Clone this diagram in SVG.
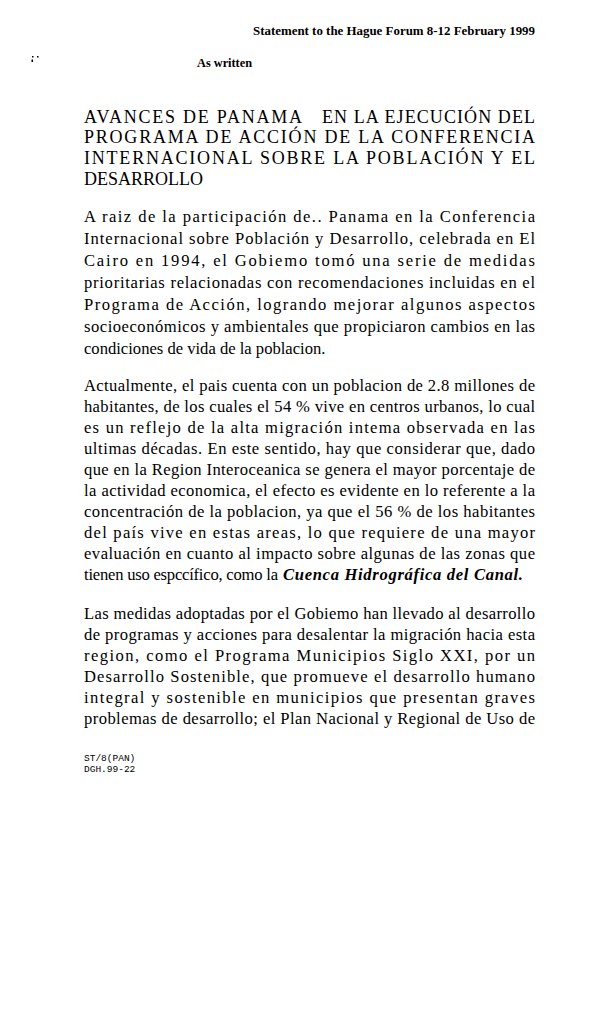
<svg xmlns="http://www.w3.org/2000/svg" width="616" height="1010" viewBox="0 0 616 1010">
<style>
.hd{font-family:"Liberation Serif","Times New Roman",serif;font-weight:bold;font-size:12px;fill:#000}
.ti{font-family:"Liberation Serif","Times New Roman",serif;font-size:18px;fill:#000}
.b{font-family:"Liberation Serif","Times New Roman",serif;font-size:16.6px;fill:#000}
.bi{font-family:"Liberation Serif","Times New Roman",serif;font-size:16.6px;font-weight:bold;font-style:italic;fill:#000}
.ft{font-family:"Liberation Mono","Courier New",monospace;font-size:9.5px;fill:#000}
</style>
<rect width="616" height="1010" fill="#fff"/>
<g id="header">
<text class="hd" x="253" y="35" textLength="282" lengthAdjust="spacingAndGlyphs">Statement to the Hague Forum 8-12 February 1999</text>
<text class="hd" x="197" y="67" textLength="55" lengthAdjust="spacingAndGlyphs">As written</text>
<g fill="#000"><rect x="32" y="56" width="1.5" height="1.5"/><rect x="37" y="56" width="1.5" height="1.5"/><rect x="31.5" y="59.5" width="1.5" height="2.5"/></g>
</g>
<g id="title">
<text class="ti" x="84" y="123" textLength="218" lengthAdjust="spacing">AVANCES DE PANAMA</text>
<text class="ti" x="322" y="123" textLength="213" lengthAdjust="spacing">EN LA EJECUCIÓN DEL</text>
<text class="ti" x="84" y="143" textLength="451" lengthAdjust="spacing">PROGRAMA DE ACCIÓN DE LA CONFERENCIA</text>
<text class="ti" x="84" y="164" textLength="451" lengthAdjust="spacing">INTERNACIONAL SOBRE LA POBLACIÓN Y EL</text>
<text class="ti" x="84" y="185">DESARROLLO</text>
</g>
<g id="para1">
<text class="b" x="84" y="222" textLength="451" lengthAdjust="spacing">A raiz de la participación de.. Panama en la Conferencia</text>
<text class="b" x="84" y="244" textLength="451" lengthAdjust="spacing">Internacional sobre Población y Desarrollo, celebrada en El</text>
<text class="b" x="84" y="266" textLength="451" lengthAdjust="spacing">Cairo en 1994, el Gobiemo tomó una serie de medidas</text>
<text class="b" x="84" y="288" textLength="451" lengthAdjust="spacing">prioritarias relacionadas con recomendaciones incluidas en el</text>
<text class="b" x="84" y="310" textLength="451" lengthAdjust="spacing">Programa de Acción, logrando mejorar algunos aspectos</text>
<text class="b" x="84" y="332" textLength="451" lengthAdjust="spacing">socioeconómicos y ambientales que propiciaron cambios en las</text>
<text class="b" x="84" y="354">condiciones de vida de la poblacion.</text>
</g>
<g id="para2">
<text class="b" x="84" y="391" textLength="451" lengthAdjust="spacing">Actualmente, el pais cuenta con un poblacion de 2.8 millones de</text>
<text class="b" x="84" y="412" textLength="451" lengthAdjust="spacing">habitantes, de los cuales el 54 % vive en centros urbanos, lo cual</text>
<text class="b" x="84" y="433" textLength="451" lengthAdjust="spacing">es un reflejo de la alta  migración intema observada en las</text>
<text class="b" x="84" y="454" textLength="451" lengthAdjust="spacing">ultimas décadas. En este sentido, hay que considerar que, dado</text>
<text class="b" x="84" y="475" textLength="451" lengthAdjust="spacing">que en la Region Interoceanica se genera el mayor porcentaje de</text>
<text class="b" x="84" y="496" textLength="451" lengthAdjust="spacing">la actividad economica, el efecto es evidente en lo referente a la</text>
<text class="b" x="84" y="517" textLength="451" lengthAdjust="spacing">concentración de la poblacion, ya que el 56 % de los habitantes</text>
<text class="b" x="84" y="538" textLength="451" lengthAdjust="spacing">del país vive en estas areas, lo que requiere de una mayor</text>
<text class="b" x="84" y="559" textLength="451" lengthAdjust="spacing">evaluación en cuanto al impacto sobre algunas de las zonas que</text>
<text class="b" x="84" y="580" textLength="194" lengthAdjust="spacing">tienen uso espccífico, como la</text>
<text class="bi" x="283" y="580" textLength="240" lengthAdjust="spacing">Cuenca Hidrográfica del Canal.</text>
</g>
<g id="para3">
<text class="b" x="84" y="619" textLength="451" lengthAdjust="spacing">Las medidas adoptadas por el Gobiemo han llevado al desarrollo</text>
<text class="b" x="84" y="640" textLength="451" lengthAdjust="spacing">de programas y acciones para desalentar la migración hacia esta</text>
<text class="b" x="84" y="661" textLength="451" lengthAdjust="spacing">region, como el Programa Municipios Siglo XXI, por un</text>
<text class="b" x="84" y="682" textLength="451" lengthAdjust="spacing">Desarrollo Sostenible, que promueve el desarrollo humano</text>
<text class="b" x="84" y="703" textLength="451" lengthAdjust="spacing">integral y sostenible en municipios que presentan graves</text>
<text class="b" x="84" y="724" textLength="451" lengthAdjust="spacing">problemas de desarrollo; el Plan Nacional y Regional de Uso de</text>
</g>
<g id="footer">
<text class="ft" x="84" y="761">ST/8(PAN)</text>
<text class="ft" x="84" y="772">DGH.99-22</text>
</g>
</svg>
